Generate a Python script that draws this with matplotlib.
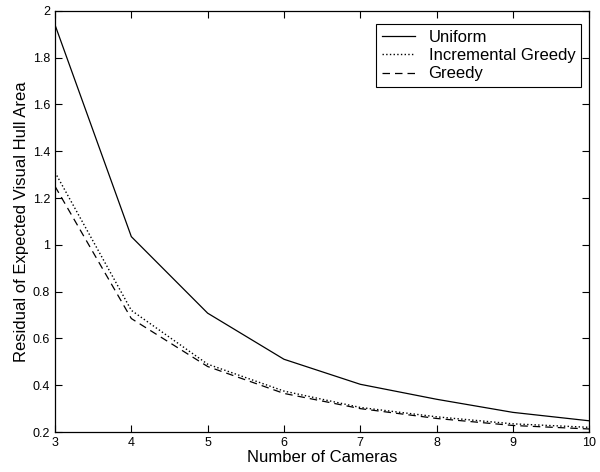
import matplotlib
matplotlib.use("Agg")
import matplotlib.pyplot as plt
from matplotlib.ticker import FormatStrFormatter

plt.rcParams["font.family"] = ["Liberation Sans", "DejaVu Sans"]

cameras = [3, 4, 5, 6, 7, 8, 9, 10]
uniform = [1.94, 1.035, 0.708, 0.511, 0.404, 0.340, 0.284, 0.248]
incremental_greedy = [1.31, 0.72, 0.49, 0.375, 0.305, 0.265, 0.235, 0.22]
greedy = [1.25, 0.685, 0.48, 0.365, 0.30, 0.258, 0.228, 0.213]

fig = plt.figure(figsize=(6, 4.72), dpi=100)
ax = fig.add_axes([0.0917, 0.0847, 0.8903, 0.8923])

ax.plot(cameras, uniform, "k-", lw=0.9, label="Uniform")
ax.plot(cameras, incremental_greedy, "k:", lw=1.0, label="Incremental Greedy")
ax.plot(cameras, greedy, "k--", lw=0.9, dashes=(6, 4), label="Greedy")

ax.set_xlim(3, 10)
ax.set_ylim(0.2, 2)
ax.set_xticks(cameras)
ax.set_yticks([0.2, 0.4, 0.6, 0.8, 1.0, 1.2, 1.4, 1.6, 1.8, 2.0])
ax.yaxis.set_major_formatter(FormatStrFormatter("%g"))
ax.tick_params(direction="in", top=True, right=True, labelsize=9, length=5, width=0.8)
for s in ax.spines.values():
    s.set_linewidth(0.9)

ax.set_xlabel("Number of Cameras", fontsize=12, labelpad=1)
ax.set_ylabel("Residual of Expected Visual Hull Area", fontsize=12, labelpad=3)

leg = ax.legend(loc="upper right", bbox_to_anchor=(0.985, 0.969), borderaxespad=0,
                fontsize=12, frameon=True, fancybox=False, edgecolor="black",
                framealpha=1, handlelength=2.0, handletextpad=0.8,
                borderpad=0.35, labelspacing=0.2)
leg.get_frame().set_linewidth(0.8)

fig.savefig("out.png", dpi=100)
